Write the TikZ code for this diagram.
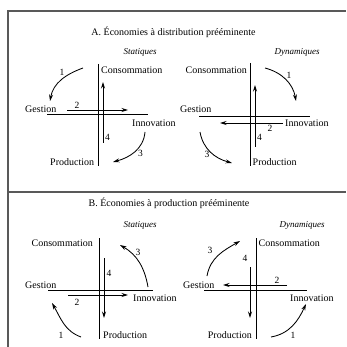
\documentclass[tikz,border=0pt]{standalone}
\usepackage{fontspec}
\setmainfont{Liberation Serif}
\usetikzlibrary{arrows.meta}
\begin{document}
\begin{tikzpicture}[x=1pt,y=1pt,
  lbl/.style={inner sep=0pt,font=\fontsize{10}{12}\selectfont},
  ttl/.style={inner sep=0pt,font=\fontsize{10}{12}\selectfont},
  sub/.style={inner sep=0pt,font=\fontsize{9}{11}\selectfont\itshape},
  num/.style={inner sep=0pt,font=\fontsize{9.5}{11}\selectfont},
  axis/.style={line width=1pt},
  flow/.style={line width=0.85pt,-{Stealth[length=6.5pt,width=4pt]}},
  frame/.style={line width=1.4pt,draw=black!65}]
\useasboundingbox (0,0) rectangle (346,-347);
% frame
\coordinate (f1) at (8,-347);
\coordinate (f2) at (8,-11);
\coordinate (f3) at (346,-11);
\coordinate (s1) at (8,-192);
\coordinate (s2) at (346,-192);
\draw[frame] (f1) -- (f2) -- (f3);
\draw[frame] (s1) -- (s2);
% titles
\node[ttl] (tA) at (173.5,-32) {A. Économies à distribution prééminente};
\node[ttl] (tB) at (169,-203) {B. Économies à production prééminente};
\node[sub] (sA1) at (140,-52) {Statiques};
\node[sub] (sA2) at (297,-52) {Dynamiques};
\node[sub] (sB1) at (140,-225) {Statiques};
\node[sub] (sB2) at (302,-225) {Dynamiques};

% ---------- A statiques ----------
\coordinate (av1) at (98,-64); \coordinate (av2) at (98,-166);
\coordinate (ah1) at (47,-115); \coordinate (ah2) at (148,-115);
\draw[axis] (av1) -- (av2);
\draw[axis] (ah1) -- (ah2);
\node[lbl,anchor=base west] (aC) at (101,-73.5) {Consommation};
\node[lbl,anchor=base west] (aG) at (25,-113) {Gestion};
\node[lbl,anchor=base west] (aI) at (132,-126.5) {Innovation};
\node[lbl,anchor=base west] (aP) at (50,-165.5) {Production};
\coordinate (a4s) at (103,-143); \coordinate (a4e) at (103,-82);
\draw[flow] (a4s) -- (a4e);
\node[num] (an4) at (107.5,-137) {4};
\coordinate (a2s) at (67,-110); \coordinate (a2e) at (128,-110);
\draw[flow] (a2s) -- (a2e);
\node[num] (an2) at (77,-105.5) {2};
\coordinate (a1s) at (83,-68); \coordinate (a1e) at (50,-101);
\draw[flow] (a1s) to[out=200,in=80] (a1e);
\node[num] (an1) at (62,-72.5) {1};
\coordinate (a3s) at (145,-132); \coordinate (a3e) at (113,-162);
\draw[flow] (a3s) to[out=265,in=15] (a3e);
\node[num] (an3) at (140.5,-153) {3};

% ---------- A dynamiques ----------
\coordinate (bv1) at (250,-63); \coordinate (bv2) at (250,-166);
\coordinate (bh1) at (199,-117); \coordinate (bh2) at (310,-117);
\draw[axis] (bv1) -- (bv2);
\draw[axis] (bh1) -- (bh2);
\node[lbl,anchor=base east] (bC) at (247,-73.5) {Consommation};
\node[lbl,anchor=base west] (bG) at (180,-113) {Gestion};
\node[lbl,anchor=base west] (bI) at (285,-126.5) {Innovation};
\node[lbl,anchor=base west] (bP) at (252.5,-166) {Production};
\coordinate (b4s) at (255,-147); \coordinate (b4e) at (255,-85);
\draw[flow] (b4s) -- (b4e);
\node[num] (bn4) at (259.5,-137) {4};
\coordinate (b2s) at (283,-123); \coordinate (b2e) at (220,-123);
\draw[flow] (b2s) -- (b2e);
\node[num] (bn2) at (270,-128) {2};
\coordinate (b1s) at (265,-68); \coordinate (b1e) at (296,-101);
\draw[flow] (b1s) to[out=-15,in=100] (b1e);
\node[num] (bn1) at (289,-75) {1};
\coordinate (b3s) at (200,-132); \coordinate (b3e) at (232,-163);
\draw[flow] (b3s) to[out=-80,in=165] (b3e);
\node[num] (bn3) at (207,-154) {3};

% ---------- B statiques ----------
\coordinate (cv1) at (99,-238); \coordinate (cv2) at (99,-339);
\coordinate (ch1) at (48,-290); \coordinate (ch2) at (153,-290);
\draw[axis] (cv1) -- (cv2);
\draw[axis] (ch1) -- (ch2);
\node[lbl,anchor=base east] (cC) at (93,-246.5) {Consommation};
\node[lbl,anchor=base west] (cG) at (25,-288) {Gestion};
\node[lbl,anchor=base west] (cI) at (133,-301.5) {Innovation};
\node[lbl,anchor=base west] (cP) at (103,-338.5) {Production};
\coordinate (c4s) at (104,-258); \coordinate (c4e) at (104,-318);
\draw[flow] (c4s) -- (c4e);
\node[num] (cn4) at (109,-273) {4};
\coordinate (c2s) at (68,-295); \coordinate (c2e) at (128,-295);
\draw[flow] (c2s) -- (c2e);
\node[num] (cn2) at (77,-302) {2};
\coordinate (c1s) at (81,-337); \coordinate (c1e) at (52,-303);
\draw[flow] (c1s) to[out=160,in=-60] (c1e);
\node[num] (cn1) at (61,-335) {1};
\coordinate (c3s) at (148,-287); \coordinate (c3e) at (120,-245);
\draw[flow] (c3s) to[out=100,in=-30] (c3e);
\node[num] (cn3) at (138,-252) {3};

% ---------- B dynamiques ----------
\coordinate (dv1) at (256,-238); \coordinate (dv2) at (256,-339);
\coordinate (dh1) at (204,-290); \coordinate (dh2) at (307,-290);
\draw[axis] (dv1) -- (dv2);
\draw[axis] (dh1) -- (dh2);
\node[lbl,anchor=base west] (dC) at (258.5,-246.5) {Consommation};
\node[lbl,anchor=base west] (dG) at (183,-288) {Gestion};
\node[lbl,anchor=base west] (dI) at (290,-301.5) {Innovation};
\node[lbl,anchor=base east] (dP) at (252,-338.5) {Production};
\coordinate (d4s) at (250,-267); \coordinate (d4e) at (250,-318);
\draw[flow] (d4s) -- (d4e);
\node[num] (dn4) at (245,-258) {4};
\coordinate (d2s) at (287,-285); \coordinate (d2e) at (223,-285);
\draw[flow] (d2s) -- (d2e);
\node[num] (dn2) at (277,-280) {2};
\coordinate (d3s) at (207,-276); \coordinate (d3e) at (240,-241);
\draw[flow] (d3s) to[out=80,in=210] (d3e);
\node[num] (dn3) at (210,-250) {3};
\coordinate (d1s) at (271,-337); \coordinate (d1e) at (306,-304);
\draw[flow] (d1s) to[out=10,in=-115] (d1e);
\node[num] (dn1) at (293,-335) {1};
\end{tikzpicture}
\end{document}
